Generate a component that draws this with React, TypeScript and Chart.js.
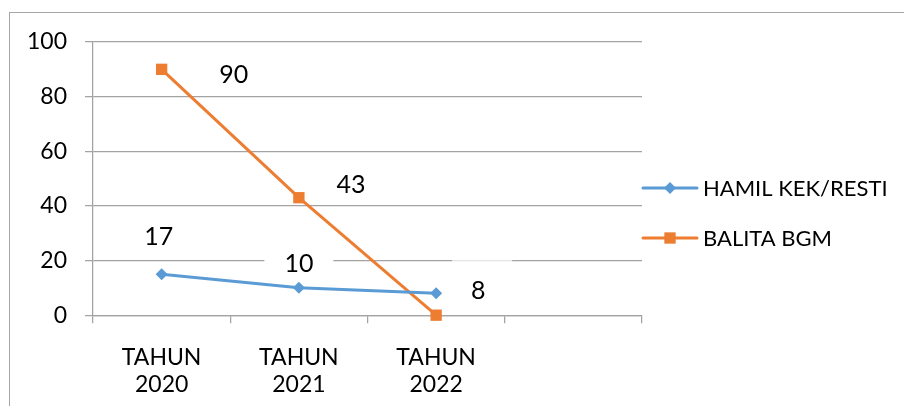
import React, { useEffect, useRef } from "react";
import { Chart, registerables } from "chart.js";

Chart.register(...registerables);

const categories: (string | string[])[] = [["TAHUN", "2020"], ["TAHUN", "2021"], ["TAHUN", "2022"], ""];
const hamilValues = [15, 10, 8];
const balitaValues = [90, 43, 0];
const hamilLabels = ["17", "10", "8"];
const balitaLabels = ["90", "43", ""];
const yTicks = [0, 20, 40, 60, 80, 100];

const FONT = "Lato, 'Open Sans', sans-serif";
const GRID = "#a3a3a3";
const BLUE = "#5B9BD5";
const ORANGE = "#ED7D31";

// styling: label offsets relative to the point, and optional background boxes
const labelStyle = [
  [
    { dx: -3, dy: -37 },
    { dx: 0, dy: -24, box: { dx: 0, dy: 0, w: 69, h: 28, a: 1 } },
    { dx: 42, dy: -2, box: { dx: 4, dy: -30, w: 60, h: 14, a: 0.7 } },
  ],
  [
    { dx: 72, dy: 6 },
    { dx: 52, dy: -13 },
    { dx: 0, dy: 0 },
  ],
];

const frameAndLabels = {
  id: "frameAndLabels",
  beforeDraw(chart: any) {
    const ctx = chart.ctx;
    ctx.save();
    ctx.fillStyle = "#ffffff";
    ctx.fillRect(0, 0, chart.width, chart.height);
    ctx.strokeStyle = "#a6a6a6";
    ctx.lineWidth = 1;
    ctx.strokeRect(9.5, 12.5, chart.width + 10, chart.height + 10);
    ctx.restore();
  },
  afterDatasetsDraw(chart: any) {
    const ctx = chart.ctx;
    const all = [hamilLabels, balitaLabels];
    ctx.save();
    all.forEach((labels, i) => {
      const meta = chart.getDatasetMeta(i);
      labels.forEach((t, j) => {
        const st: any = labelStyle[i][j];
        const p = meta.data[j];
        if (!p || !t || !st.box) return;
        const cx = p.x + st.dx + st.box.dx;
        const cy = p.y + st.dy + st.box.dy;
        ctx.fillStyle = `rgba(255,255,255,${st.box.a})`;
        ctx.fillRect(cx - st.box.w / 2, cy - st.box.h / 2, st.box.w, st.box.h);
      });
    });
    ctx.fillStyle = "#000000";
    ctx.font = `25px ${FONT}`;
    ctx.textAlign = "center";
    ctx.textBaseline = "middle";
    all.forEach((labels, i) => {
      const meta = chart.getDatasetMeta(i);
      labels.forEach((t, j) => {
        const st: any = labelStyle[i][j];
        const p = meta.data[j];
        if (!p || !t) return;
        ctx.fillText(t, p.x + st.dx, p.y + st.dy);
      });
    });
    ctx.restore();
  },
  afterDraw(chart: any) {
    const ctx = chart.ctx;
    const area = chart.chartArea;
    const items = chart.data.datasets.map((d: any) => ({
      text: d.label,
      color: d.borderColor,
      style: d.pointStyle,
      r: d.pointRadius,
    }));
    ctx.save();
    items.forEach((it: any, k: number) => {
      const y = area.top + 146 + k * 50;
      const x0 = area.right + 1;
      const x1 = x0 + 54;
      ctx.strokeStyle = it.color;
      ctx.lineWidth = 3;
      ctx.lineCap = "round";
      ctx.beginPath();
      ctx.moveTo(x0, y);
      ctx.lineTo(x1, y);
      ctx.stroke();
      ctx.fillStyle = it.color;
      const mx = (x0 + x1) / 2;
      if (it.style === "rect") {
        const s = it.r * Math.SQRT1_2;
        ctx.fillRect(mx - s, y - s, 2 * s, 2 * s);
      } else {
        ctx.beginPath();
        ctx.moveTo(mx, y - it.r);
        ctx.lineTo(mx + it.r, y);
        ctx.lineTo(mx, y + it.r);
        ctx.lineTo(mx - it.r, y);
        ctx.closePath();
        ctx.fill();
      }
      ctx.fillStyle = "#000000";
      ctx.font = `22px ${FONT}`;
      ctx.textAlign = "left";
      ctx.textBaseline = "middle";
      ctx.fillText(it.text, x1 + 6, y + 1);
    });
    ctx.restore();
  },
};

export default function App() {
  const ref = useRef<HTMLCanvasElement | null>(null);
  useEffect(() => {
    document.body.style.margin = "0";
    if (!ref.current) return;
    const chart = new Chart(ref.current, {
      type: "line",
      data: {
        labels: categories as any,
        datasets: [
          {
            label: "HAMIL KEK/RESTI",
            data: hamilValues,
            borderColor: BLUE,
            backgroundColor: BLUE,
            borderWidth: 3,
            pointStyle: "rectRot",
            pointRadius: 6,
            pointBorderWidth: 0,
            tension: 0,
            clip: false as any,
          },
          {
            label: "BALITA BGM",
            data: balitaValues,
            borderColor: ORANGE,
            backgroundColor: ORANGE,
            borderWidth: 3,
            pointStyle: "rect",
            pointRadius: 8,
            pointBorderWidth: 0,
            tension: 0,
            clip: false as any,
          },
        ],
      },
      options: {
        responsive: false,
        animation: false,
        layout: { padding: { left: 9, right: 262, top: 42, bottom: -13 } },
        plugins: { legend: { display: false }, tooltip: { enabled: false } },
        scales: {
          x: {
            offset: true,
            grid: {
              offset: true,
              drawOnChartArea: false,
              drawTicks: true,
              tickLength: 8,
              color: GRID,
              lineWidth: 1.25,
            },
            border: { display: true, color: GRID, width: 1.25 },
            ticks: {
              color: "#000000",
              padding: 21,
              maxRotation: 0,
              autoSkip: false,
              font: { family: FONT, size: 23, lineHeight: 1.17 },
            },
          },
          y: {
            min: 0,
            max: 100,
            afterBuildTicks: (axis: any) => {
              axis.ticks = yTicks.map((v) => ({ value: v }));
            },
            grid: { color: GRID, lineWidth: 1.25, tickLength: 8, drawTicks: true },
            border: { display: true, color: GRID, width: 1.25 },
            ticks: {
              color: "#000000",
              padding: 18,
              font: { family: FONT, size: 23 },
            },
          },
        },
      },
      plugins: [frameAndLabels],
    });
    return () => chart.destroy();
  }, []);
  return (
    <div style={{ width: 904, height: 406 }}>
      <canvas ref={ref} width={904} height={406} style={{ display: "block" }} />
    </div>
  );
}
